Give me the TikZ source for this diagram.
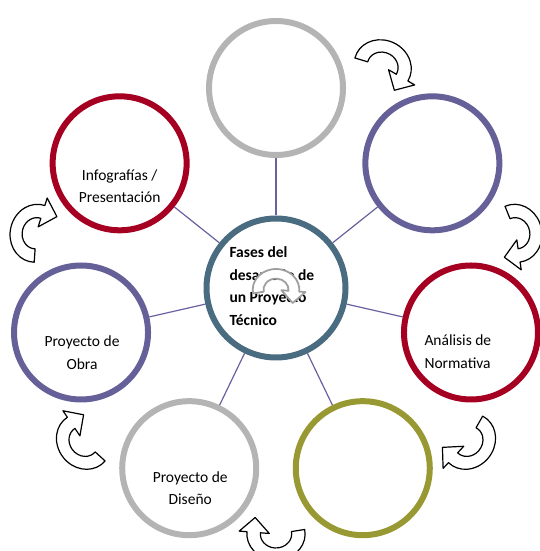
\documentclass[tikz,border=0pt]{standalone}
\usepackage{fontspec}
\setmainfont{Carlito}
\usetikzlibrary{positioning}
\definecolor{RingGray}{RGB}{180,180,180}
\definecolor{RingPurple}{RGB}{102,96,153}
\definecolor{RingRed}{RGB}{165,0,33}
\definecolor{RingOlive}{RGB}{153,153,51}
\definecolor{HubBlue}{RGB}{73,108,128}
\definecolor{SpokeLine}{RGB}{104,98,160}

\begin{document}
\begin{tikzpicture}[x=1pt,y=1pt]
  \tikzset{
    ring/.style={circle,draw=#1,line width=6pt,minimum size=134pt,inner sep=0pt},
    lbl/.style={align=center,font=\fontsize{15.5}{22.5}\selectfont},
    spoke/.style={draw=SpokeLine,line width=1.2pt},
    turnpic/.style={draw=black,fill=white,line width=1.2pt},
    pics/turn/.style={code={
      \draw[pic actions,line join=round,xscale=1.12,shift={(0,-6)}]
        (190:26) arc[start angle=190,end angle=-5,radius=26pt] -- (-5:33) -- (18.6,-16.5)
        -- (-5:6) -- (-5:14) arc[start angle=-5,end angle=190,radius=14pt] -- cycle;
    }}
  }
  \useasboundingbox (0,0) rectangle (540,551);
  \coordinate (M) at (276,263);
  % hub and the seven phases
  \node[ring=HubBlue,minimum size=139pt] (hub) at (M) {};
  \foreach \i/\col in {0/RingGray,1/RingPurple,2/RingRed,3/RingOlive,4/RingGray,5/RingPurple,6/RingRed}{
    \node[ring=\col] (p\i) at ([shift={({90-\i*360/7}:200)}]M) {};
    \draw[spoke] (hub) -- (p\i);
  }
  % labels
  \node[lbl] (t6) at ([shift={(0pt,-23pt)}]p6.center) {Infografías /\\Presentación};
  \node[lbl] (t5) at ([shift={(1pt,-20pt)}]p5.center) {Proyecto de\\Obra};
  \node[lbl] (t4) at ([shift={(1pt,-20pt)}]p4.center) {Proyecto de\\Diseño};
  \node[lbl,align=left,anchor=west] (t2) at ([shift={(-50pt,-19pt)}]p2.center) {Análisis de\\Normativa};
  \node[lbl,align=left,anchor=west,font=\bfseries\fontsize{15.5}{22.5}\selectfont] (title) at ([shift={(-50pt,2pt)}]hub.center)
    {Fases del\\desarrollo de\\un Proyecto\\Técnico};
  % cycle arrows
  \foreach \i in {0,...,5}
    \pic[turnpic,rotate={-(\i+0.5)*360/7}] at ([shift={({90-(\i+0.5)*360/7}:252)}]M) {turn};
  \pic[turnpic,draw=gray!75,line width=1.8pt,scale=0.8] at (276,266) {turn};
\end{tikzpicture}
\end{document}
